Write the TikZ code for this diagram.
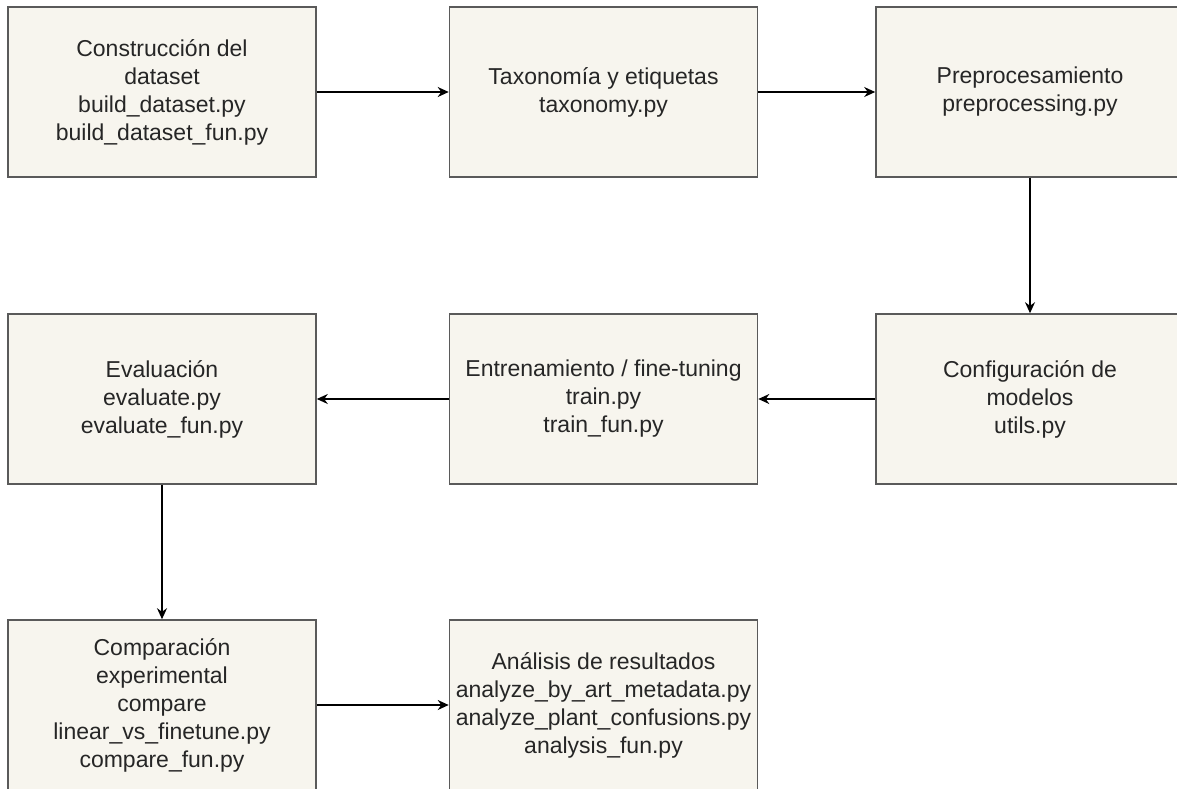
\documentclass[tikz,border=0pt]{standalone}
\usepackage{fontspec}
\setmainfont{Liberation Sans}
\usetikzlibrary{arrows.meta}
\definecolor{boxfill}{HTML}{F7F5EE}
\definecolor{boxline}{HTML}{5A5A5A}
\begin{document}
\begin{tikzpicture}[x=1pt,y=-1pt,
  stage/.style={draw=boxline,line width=1.6pt,fill=boxfill,minimum width=308pt,minimum height=170pt,
    align=center,inner sep=0pt,font=\fontsize{23}{28}\selectfont,text=black!85},
  flow/.style={draw=black,line width=1.4pt,-{Stealth[length=11pt,width=10pt]}}]
\useasboundingbox (0,0) rectangle (1177,788);
\fill[white] (0,0) rectangle (1177,788);
\begin{scope}
\clip (0,0) rectangle (1177,788);
\node[stage] (build) at (162,92) {Construcción del\\dataset\\build\_dataset.py\\build\_dataset\_fun.py};
\node[stage] (tax) at (603.5,92) {Taxonomía y etiquetas\\taxonomy.py};
\node[stage] (prep) at (1030,92) {Preprocesamiento\\preprocessing.py};
\node[stage] (conf) at (1030,399) {Configuración de\\modelos\\utils.py};
\node[stage] (train) at (603.5,399) {Entrenamiento / fine-tuning\\train.py\\train\_fun.py};
\node[stage] (eval) at (162,399) {Evaluación\\evaluate.py\\evaluate\_fun.py};
\node[stage] (comp) at (162,705) {Comparación\\experimental\\compare\\linear\_vs\_finetune.py\\compare\_fun.py};
\node[stage] (anal) at (603.5,705) {Análisis de resultados\\analyze\_by\_art\_metadata.py\\analyze\_plant\_confusions.py\\analysis\_fun.py};
\end{scope}
\draw[flow] (build) -- (tax);
\draw[flow] (tax) -- (prep);
\draw[flow] (prep) -- (conf);
\draw[flow] (conf) -- (train);
\draw[flow] (train) -- (eval);
\draw[flow] (eval) -- (comp);
\draw[flow] (comp) -- (anal);
\end{tikzpicture}
\end{document}
